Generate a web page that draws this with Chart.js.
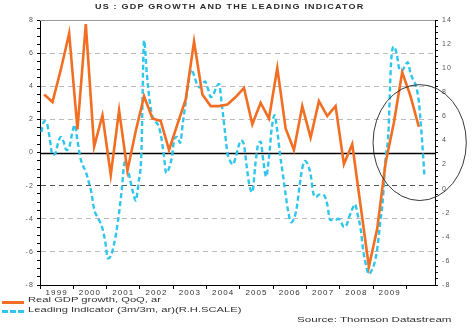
<!DOCTYPE html>
<html>
<head>
<meta charset="utf-8">
<script src="https://cdn.jsdelivr.net/npm/chart.js@4.4.0/dist/chart.umd.min.js"></script>
<style>
  body { margin: 0; background: #fff; font-family: Arial, "Liberation Sans", sans-serif; }
  #wrap { position: relative; width: 473px; height: 334px; }
  #wrap canvas { position: absolute; left: 0; top: 0; }
  .txt { position: absolute; line-height: 1; white-space: nowrap; color: #333; transform-origin: 0 0; }
  #title { left: 95px; top: 3px; font-size: 7.5px; font-weight: bold; letter-spacing: 1px; transform: scaleX(1.2); color: #2a2a2a; }
  .key { left: 28px; font-size: 8px; transform: scaleX(1.4); }
  .swatch { position: absolute; left: 2px; width: 22px; height: 0; }
  #source { left: 297px; top: 316px; font-size: 8px; transform: scaleX(1.45); }
</style>
</head>
<body>
<div id="wrap">
  <canvas id="gdpChart" width="473" height="334"></canvas>
  <div class="txt" id="title">US : GDP GROWTH AND THE LEADING INDICATOR</div>
  <div class="swatch" style="top:301px; border-top:3px solid #F26E22"></div>
  <div class="txt key" style="top:296px">Real GDP growth, QoQ, ar</div>
  <div class="swatch" style="top:310px; border-top:3px dashed #2EC6EC"></div>
  <div class="txt key" style="top:306px">Leading Indicator (3m/3m, ar)(R.H.SCALE)</div>
  <div class="txt" id="source">Source: Thomson Datastream</div>
</div>
<script>
// first year on the time axis
const startYear = 1999;

// real GDP growth, quarter on quarter annualised, Q1 1999 .. Q2 2010
const gdpGrowth = [
  3.5, 3.05, 5.0, 7.2,
  1.4, 7.75, 0.35, 2.25,
  -1.35, 2.55, -1.1, 1.3,
  3.4, 2.05, 1.9, 0.15,
  1.7, 3.2, 6.7, 3.5,
  2.8, 2.8, 2.9, 3.35,
  3.9, 1.7, 3.0, 2.05,
  5.1, 1.45, 0.15, 2.8,
  0.9, 3.1, 2.2, 2.8,
  -0.7, 0.5, -3.2, -6.9,
  -4.6, -0.65, 1.8, 4.85,
  3.4, 1.55
];

// leading indicator, 3m/3m annualised, monthly Jan 1999 .. Jul 2010 (right scale)
const leadingIndicator = [
  4.7, 5.6, 5.4, 4.2, 2.8, 2.9, 3.8, 4.3, 3.9, 3.2, 3.4, 4.5,
  5.3, 4.0, 2.6, 1.9, 1.4, 0.6, -0.3, -1.7, -2.3, -2.7, -3.3, -4.4,
  -5.8, -5.6, -4.8, -3.6, -2.0, 0.0, 2.2, 1.8, 0.7, -0.3, -1.0, 0.5,
  2.8, 12.3, 9.5, 7.3, 6.0, 5.6, 5.3, 4.5, 3.0, 1.3, 1.7, 2.6,
  4.2, 4.3, 3.8, 5.5, 7.2, 8.8, 9.9, 9.4, 8.7, 8.4, 8.7, 8.9,
  8.3, 7.6, 7.8, 8.4, 8.7, 7.0, 5.0, 3.0, 2.3, 2.0, 2.6, 3.5,
  4.0, 3.6, 1.8, 0.2, -0.3, 1.8, 3.6, 3.9, 2.2, 1.0, 2.6, 5.0,
  6.1, 4.8, 2.8, 1.2, -0.5, -2.0, -2.8, -2.5, -1.6, 0.2, 1.7, 2.3,
  2.0, 1.2, -0.4, -0.7, -0.5, -0.5, -0.6, -1.3, -2.6, -2.6, -2.6, -2.5,
  -2.8, -3.2, -3.0, -2.3, -1.7, -1.3, -2.2, -3.3, -5.2, -6.4, -7.1, -6.8,
  -6.2, -5.0, -3.0, -1.0, 2.5, 4.5, 10.5, 11.8, 11.2, 9.9, 9.8, 10.2,
  10.5, 9.6, 9.0, 8.5, 7.2, 4.5, 1.1
];

// axis ranges and labels
const leftRange = [-8, 8];
const rightRange = [-8, 14];
const yearLabels = ['1999', '2000', '2001', '2002', '2003', '2004', '2005', '2006', '2007', '2008', '2009'];

// ring drawn round the 2009-10 rebound (centre in years / left-scale units)
const ring = { x: 2010.4, y: 0.6, rx: 1.4, ry: 3.5 };

const gdpPoints = gdpGrowth.map((v, i) => ({ x: startYear + (i * 3 + 1.5) / 12, y: v }));
const leadPoints = leadingIndicator.map((v, i) => ({ x: startYear + (i + 0.5) / 12, y: v }));

const clear = 'rgba(0,0,0,0)';

function halfSteps(scale, lo, hi) {
  const ticks = [];
  for (let v = lo; v <= hi; v += 0.5) ticks.push({ value: v });
  scale.ticks = ticks;
}

const extras = {
  id: 'extras',
  beforeDraw(chart) {
    // labels are set wide and low
    chart.ctx.letterSpacing = '1.1px';
  },
  beforeDatasetsDraw(chart) {
    const { ctx, chartArea: a, scales: { y } } = chart;
    ctx.save();
    ctx.lineWidth = 1;
    ctx.strokeStyle = '#999';
    ctx.beginPath();
    ctx.moveTo(a.left, a.top + 0.5);
    ctx.lineTo(a.right, a.top + 0.5);
    ctx.stroke();
    // zero line on the left scale
    const y0 = Math.round(y.getPixelForValue(0)) + 0.5;
    ctx.strokeStyle = '#000';
    ctx.lineWidth = 1.4;
    ctx.beginPath();
    ctx.moveTo(a.left, y0);
    ctx.lineTo(a.right, y0);
    ctx.stroke();
    ctx.restore();
  },
  afterDraw(chart) {
    const { ctx, scales: { x, y } } = chart;
    const cx = x.getPixelForValue(ring.x);
    const cy = y.getPixelForValue(ring.y);
    const rx = x.getPixelForValue(ring.x + ring.rx) - cx;
    const ry = cy - y.getPixelForValue(ring.y + ring.ry);
    ctx.save();
    ctx.strokeStyle = '#222';
    ctx.lineWidth = 0.9;
    ctx.beginPath();
    ctx.ellipse(cx, cy, rx, ry, 0, 0, Math.PI * 2);
    ctx.stroke();
    ctx.restore();
  }
};

new Chart(document.getElementById('gdpChart'), {
  type: 'line',
  data: {
    datasets: [
      {
        label: 'Real GDP growth, QoQ, ar',
        data: gdpPoints,
        yAxisID: 'y',
        borderColor: '#F26E22',
        borderWidth: 2.6,
        pointRadius: 0,
        tension: 0,
        order: 0
      },
      {
        label: 'Leading Indicator (3m/3m, ar)(R.H.SCALE)',
        data: leadPoints,
        yAxisID: 'y1',
        borderColor: '#2EC6EC',
        borderWidth: 2.4,
        borderDash: [5, 3],
        pointRadius: 0,
        cubicInterpolationMode: 'monotone',
        order: 1
      }
    ]
  },
  options: {
    responsive: false,
    animation: false,
    layout: { padding: { top: 20, left: 0, right: 0, bottom: 0 } },
    plugins: { legend: { display: false }, tooltip: { enabled: false } },
    scales: {
      x: {
        type: 'linear',
        min: startYear,
        max: 2010.86,
        afterBuildTicks: s => {
          const ticks = [];
          for (let v = startYear; v <= 2010; v += 0.5) ticks.push({ value: v });
          s.ticks = ticks;
        },
        afterFit: s => { s.height = 49; },
        ticks: {
          autoSkip: false,
          maxRotation: 0,
          padding: -1,
          color: '#333',
          font: { family: 'Arial', size: 8 },
          callback: v => {
            const i = Math.floor(v) - startYear;
            return (v % 1 !== 0 && yearLabels[i]) ? yearLabels[i] : '';
          }
        },
        grid: {
          drawOnChartArea: false,
          tickLength: 4,
          tickColor: c => (c.tick && c.tick.value % 1 === 0) ? '#000' : clear
        },
        border: { color: '#000', width: 1 }
      },
      y: {
        position: 'left',
        min: leftRange[0],
        max: leftRange[1],
        afterBuildTicks: s => halfSteps(s, leftRange[0], leftRange[1]),
        afterFit: s => { s.width = 40; },
        ticks: {
          autoSkip: false,
          padding: 3,
          color: '#555',
          font: { family: 'Arial', size: 7 },
          callback: v => (v % 2 === 0 ? String(v) : '')
        },
        grid: {
          tickLength: 3,
          tickColor: '#000',
          color: c => {
            const v = c.tick ? c.tick.value : 1;
            if (v === -2) return '#555';
            if (v % 2 === 0 && v !== 0 && Math.abs(v) < 8) return '#bbb';
            return clear;
          }
        },
        border: { color: '#000', width: 1, dash: [5, 4] }
      },
      y1: {
        position: 'right',
        min: rightRange[0],
        max: rightRange[1],
        afterBuildTicks: s => halfSteps(s, rightRange[0], rightRange[1]),
        afterFit: s => { s.width = 38; },
        ticks: {
          autoSkip: false,
          padding: 4,
          color: '#555',
          font: { family: 'Arial', size: 7 },
          callback: v => (v % 2 === 0 ? String(v) : '')
        },
        grid: { drawOnChartArea: false, tickLength: 3, tickColor: '#000' },
        border: { color: '#000', width: 1 }
      }
    }
  },
  plugins: [extras]
});
</script>
</body>
</html>
